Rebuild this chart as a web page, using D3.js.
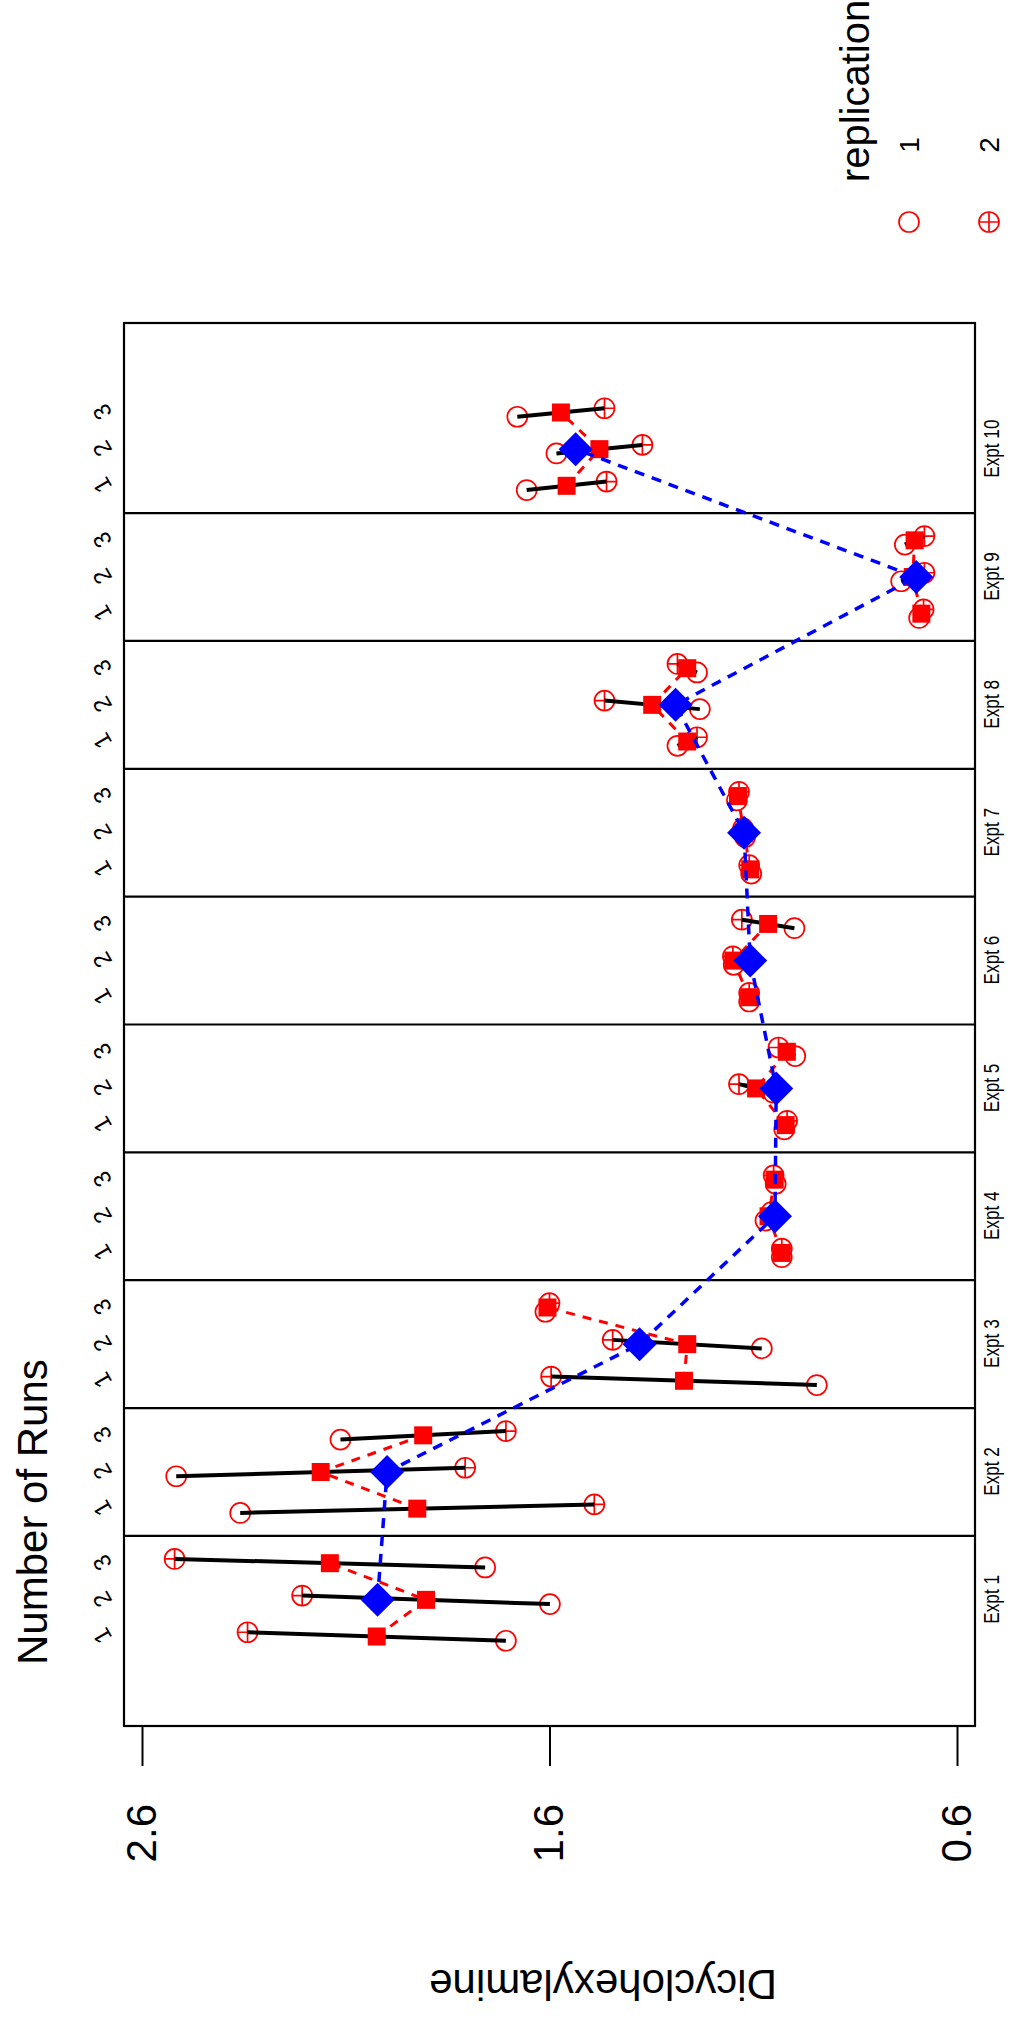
<!DOCTYPE html>
<html>
<head>
<meta charset="utf-8">
<script src="https://cdn.jsdelivr.net/npm/d3@7"></script>
<style>
body { margin: 0; background: #fff; }
svg text { font-family: "Liberation Sans", Arial, sans-serif; fill: #000; }
</style>
</head>
<body>
<svg id="chart" width="1011" height="2026"></svg>
<script>
var experiments = ["Expt 1", "Expt 2", "Expt 3", "Expt 4", "Expt 5",
                   "Expt 6", "Expt 7", "Expt 8", "Expt 9", "Expt 10"];
var runLabels = ["1", "2", "3"];
var rep1 = [1.707, 1.599, 1.758,   2.359, 2.516, 2.113,   0.944, 1.079, 1.610,
            1.030, 1.070, 1.045,   1.024, 1.051, 0.997,   1.110, 1.148, 0.999,
            1.105, 1.120, 1.140,   1.286, 1.231, 1.238,   0.693, 0.737, 0.728,
            1.656, 1.583, 1.679];
var rep2 = [2.341, 2.207, 2.520,   1.490, 1.807, 1.707,   1.596, 1.445, 1.600,
            1.030, 1.055, 1.050,   1.017, 1.135, 1.038,   1.110, 1.150, 1.128,
            1.110, 1.125, 1.135,   1.238, 1.465, 1.286,   0.682, 0.680, 0.680,
            1.460, 1.372, 1.465];
var valueTicks = [0.6, 1.6, 2.6];
var legendLabels = ["1", "2"];

// the chart is drawn landscape, then turned a quarter turn to the left
var W0 = 2026;
var svg = d3.select("#chart");
var g = svg.append("g").attr("transform", "translate(0," + W0 + ") rotate(-90)");

var plotTop = 124, plotBottom = 975, plotLeft = 300, plotRight = 1703;

var x = d3.scaleLinear().domain([-0.96, 31.96]).range([plotLeft, plotRight]);
var y = d3.scaleLinear().domain([0.6, 2.6]).range([957, 142]);

var runs = rep1.map(function(v, i)
{
	var e = Math.floor(i / 3), j = i % 3;
	return {e: e, j: j, r1: v, r2: rep2[i], mean: (v + rep2[i]) / 2,
	        p: e * 3 + 2 + (j - 1) * 0.86};
});

var expMeans = experiments.map(function(name, e)
{
	var rs = runs.filter(function(d) { return d.e === e; });
	return {name: name, p: e * 3 + 2, mean: d3.mean(rs, function(d) { return d.mean; })};
});

// frame and experiment separators
g.append("rect")
	.attr("x", plotLeft).attr("y", plotTop)
	.attr("width", plotRight - plotLeft).attr("height", plotBottom - plotTop)
	.attr("fill", "none").attr("stroke", "#000").attr("stroke-width", 2.2);

g.selectAll("line.sep").data(d3.range(1, experiments.length)).enter()
	.append("line").attr("class", "sep")
	.attr("x1", function(d) { return x(d * 3 + 0.5); })
	.attr("x2", function(d) { return x(d * 3 + 0.5); })
	.attr("y1", plotTop).attr("y2", plotBottom)
	.attr("stroke", "#000").attr("stroke-width", 2.2);

// value axis
var yAxis = g.append("g")
	.attr("transform", "translate(" + plotLeft + ",0)")
	.call(d3.axisLeft(y).tickValues(valueTicks).tickSize(40).tickPadding(38).tickFormat(d3.format(".1f")));
yAxis.select(".domain").remove();
yAxis.selectAll("line").attr("stroke-width", 2);
yAxis.selectAll("text").attr("font-size", 42).style("font-family", "Liberation Sans, Arial, sans-serif");

// run labels along the top
var topAxis = g.append("g")
	.attr("transform", "translate(0," + plotTop + ")")
	.call(d3.axisTop(x).tickValues(runs.map(function(d) { return d.p; })).tickSize(0)
		.tickFormat(function(d, i) { return runLabels[i % 3]; }));
topAxis.select(".domain").remove();
topAxis.selectAll("text")
	.attr("font-size", 24).style("font-family", "Liberation Sans, Arial, sans-serif")
	.attr("dy", null).attr("y", null)
	.attr("text-anchor", "middle").attr("dominant-baseline", "central")
	.attr("transform", "translate(0,-22) rotate(-30)");

// experiment labels along the bottom
var botAxis = g.append("g")
	.attr("transform", "translate(0," + plotBottom + ")")
	.call(d3.axisBottom(x).tickValues(expMeans.map(function(d) { return d.p; })).tickSize(0).tickPadding(8)
		.tickFormat(function(d, i) { return experiments[i]; }));
botAxis.select(".domain").remove();
botAxis.selectAll("text").attr("font-size", 22)
	.style("font-family", "Liberation Sans, Arial, sans-serif")
	.attr("transform", "scale(0.78,1)");

// titles
g.append("text").attr("x", 361).attr("y", 32)
	.attr("dominant-baseline", "central").attr("font-size", 42)
	.text("Number of Runs");

g.append("text")
	.attr("transform", "translate(42,603) rotate(-90)")
	.attr("text-anchor", "middle").attr("dominant-baseline", "central").attr("font-size", 42)
	.text("Dicyclohexylamine");

// replicate points and the lines joining them
var off = 0.1;
g.selectAll("circle.rep1").data(runs).enter().append("circle").attr("class", "rep1")
	.attr("cx", function(d) { return x(d.p - off); })
	.attr("cy", function(d) { return y(d.r1); })
	.attr("r", 10).attr("fill", "none").attr("stroke", "red").attr("stroke-width", 1.7);

var plus = g.selectAll("g.rep2").data(runs).enter().append("g").attr("class", "rep2")
	.attr("transform", function(d) { return "translate(" + x(d.p + off) + "," + y(d.r2) + ")"; });
plus.append("circle").attr("r", 10).attr("fill", "none").attr("stroke", "red").attr("stroke-width", 1.7);
plus.append("path").attr("d", "M-10,0H10M0,-10V10").attr("stroke", "red").attr("stroke-width", 1.7);

g.selectAll("line.rep").data(runs).enter().append("line").attr("class", "rep")
	.attr("x1", function(d) { return x(d.p - off); })
	.attr("y1", function(d) { return y(d.r1); })
	.attr("x2", function(d) { return x(d.p + off); })
	.attr("y2", function(d) { return y(d.r2); })
	.attr("stroke", "#000").attr("stroke-width", 4);

// run means
g.selectAll("rect.mean").data(runs).enter().append("rect").attr("class", "mean")
	.attr("x", function(d) { return x(d.p) - 9; })
	.attr("y", function(d) { return y(d.mean) - 9; })
	.attr("width", 18).attr("height", 18).attr("fill", "red");

var runLine = d3.line()
	.x(function(d) { return x(d.p); })
	.y(function(d) { return y(d.mean); });

g.selectAll("path.runline").data(d3.groups(runs, function(d) { return d.e; })).enter()
	.append("path").attr("class", "runline")
	.attr("d", function(d) { return runLine(d[1]); })
	.attr("fill", "none").attr("stroke", "red").attr("stroke-width", 3)
	.attr("stroke-dasharray", "9,8");

// experiment means
g.append("path").datum(expMeans)
	.attr("d", runLine)
	.attr("fill", "none").attr("stroke", "blue").attr("stroke-width", 3.5)
	.attr("stroke-dasharray", "10,8");

g.selectAll("path.diamond").data(expMeans).enter().append("path").attr("class", "diamond")
	.attr("transform", function(d) { return "translate(" + x(d.p) + "," + y(d.mean) + ")"; })
	.attr("d", "M0,-17L17,0L0,17L-17,0Z").attr("fill", "blue");

// legend
var legend = g.append("g");
legend.append("text").attr("x", 1935).attr("y", 855)
	.attr("text-anchor", "middle").attr("dominant-baseline", "central").attr("font-size", 40)
	.text("replication");

var items = legend.selectAll("g.item").data(legendLabels).enter().append("g").attr("class", "item")
	.attr("transform", function(d, i) { return "translate(1804," + (909 + i * 80) + ")"; });
items.append("circle").attr("r", 10).attr("fill", "none").attr("stroke", "red").attr("stroke-width", 1.7);
items.filter(function(d, i) { return i === 1; }).append("path")
	.attr("d", "M-10,0H10M0,-10V10").attr("stroke", "red").attr("stroke-width", 1.7);
items.append("text").attr("x", 77).attr("dominant-baseline", "central").attr("text-anchor", "middle")
	.attr("font-size", 28).text(function(d) { return d; });
</script>
</body>
</html>
